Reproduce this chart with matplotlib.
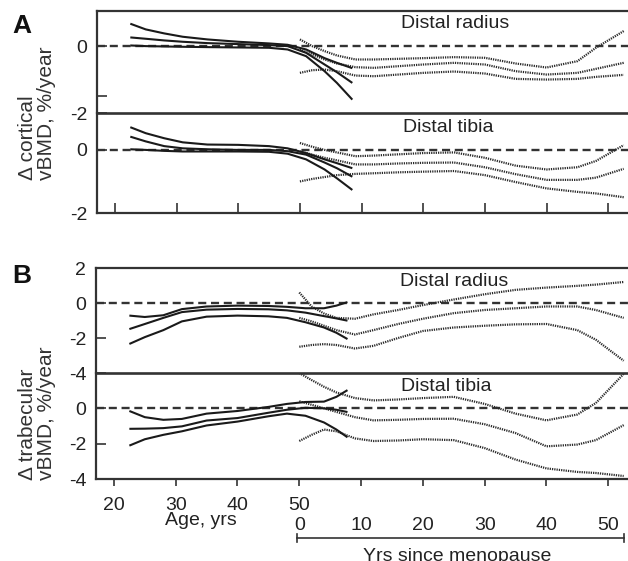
import matplotlib
matplotlib.use("Agg")
import matplotlib.pyplot as plt

plt.rcParams['font.family'] = ['Liberation Sans', 'DejaVu Sans']
plt.rcParams['lines.scale_dashes'] = False

W, H = 628, 561
MENOPAUSE_AGE = 50

# ---- data ----
# solid curves: change vs age (upper CI, mean, lower CI)
AGE_A = [22.5, 25, 28, 31, 35, 40, 45, 48, 51, 54, 56, 58.5]
AGE_B = [22.5, 25, 28, 31, 35, 40, 45, 48, 51, 54, 56, 57.8]

cort_radius_hi = [0.67, 0.50, 0.38, 0.28, 0.20, 0.13, 0.08, 0.04, -0.10, -0.36, -0.50, -0.66]
cort_radius_mid = [0.26, 0.22, 0.17, 0.13, 0.09, 0.06, 0.03, 0.00, -0.20, -0.55, -0.78, -1.10]
cort_radius_lo = [0.02, 0.00, -0.01, -0.02, -0.03, -0.04, -0.05, -0.10, -0.30, -0.75, -1.10, -1.60]

cort_tibia_hi = [0.72, 0.53, 0.37, 0.24, 0.17, 0.16, 0.12, 0.05, -0.10, -0.30, -0.42, -0.58]
cort_tibia_mid = [0.42, 0.27, 0.12, 0.05, 0.02, 0.00, 0.00, -0.04, -0.15, -0.40, -0.58, -0.85]
cort_tibia_lo = [0.02, 0.00, -0.03, -0.05, -0.05, -0.05, -0.06, -0.12, -0.30, -0.62, -0.90, -1.27]

trab_radius_hi = [-0.72, -0.80, -0.70, -0.35, -0.20, -0.15, -0.17, -0.22, -0.30, -0.30, -0.15, 0.05]
trab_radius_mid = [-1.49, -1.20, -0.85, -0.52, -0.38, -0.34, -0.36, -0.42, -0.55, -0.75, -0.88, -1.01]
trab_radius_lo = [-2.34, -1.95, -1.55, -1.05, -0.78, -0.72, -0.76, -0.85, -1.10, -1.40, -1.70, -2.06]

trab_tibia_hi = [-0.15, -0.50, -0.65, -0.60, -0.30, -0.15, 0.08, 0.25, 0.36, 0.38, 0.65, 1.03]
trab_tibia_mid = [-1.16, -1.15, -1.12, -1.02, -0.69, -0.55, -0.25, -0.08, 0.03, 0.00, -0.08, -0.21]
trab_tibia_lo = [-2.11, -1.75, -1.50, -1.30, -0.97, -0.75, -0.45, -0.30, -0.42, -0.80, -1.20, -1.64]

# dotted curves: change vs years since menopause
YRS = [0, 2, 4, 6, 9, 12, 16, 20, 25, 30, 35, 40, 45, 48, 52.5]

cort_radius_yhi = [0.20, 0.00, -0.15, -0.28, -0.40, -0.40, -0.38, -0.36, -0.33, -0.35, -0.52, -0.64, -0.45, -0.05, 0.45]
cort_radius_ymid = [-0.10, -0.25, -0.40, -0.52, -0.63, -0.65, -0.60, -0.55, -0.50, -0.55, -0.75, -0.85, -0.80, -0.68, -0.50]
cort_radius_ylo = [-0.80, -0.72, -0.70, -0.75, -0.88, -0.90, -0.85, -0.80, -0.76, -0.82, -0.98, -1.00, -0.98, -0.92, -0.86]

cort_tibia_yhi = [0.22, 0.10, 0.00, -0.08, -0.20, -0.18, -0.14, -0.10, -0.08, -0.25, -0.50, -0.62, -0.55, -0.35, 0.15]
cort_tibia_ymid = [-0.05, -0.15, -0.25, -0.33, -0.46, -0.46, -0.43, -0.41, -0.40, -0.55, -0.77, -0.95, -0.95, -0.88, -0.60]
cort_tibia_ylo = [-1.00, -0.92, -0.86, -0.80, -0.76, -0.74, -0.71, -0.69, -0.67, -0.80, -1.02, -1.22, -1.33, -1.38, -1.50]

trab_radius_yhi = [0.60, -0.20, -0.60, -0.85, -0.90, -0.65, -0.40, -0.12, 0.20, 0.50, 0.75, 0.88, 0.98, 1.05, 1.20]
trab_radius_ymid = [-0.85, -1.05, -1.30, -1.55, -1.80, -1.55, -1.20, -0.90, -0.58, -0.40, -0.30, -0.20, -0.20, -0.40, -0.85]
trab_radius_ylo = [-2.50, -2.40, -2.35, -2.40, -2.60, -2.45, -2.00, -1.60, -1.40, -1.30, -1.22, -1.20, -1.55, -2.10, -3.30]

trab_tibia_yhi = [2.00, 1.60, 1.22, 0.90, 0.58, 0.45, 0.50, 0.58, 0.65, 0.25, -0.30, -0.68, -0.35, 0.30, 1.95]
trab_tibia_ymid = [0.40, 0.20, 0.00, -0.20, -0.50, -0.68, -0.65, -0.60, -0.59, -0.90, -1.40, -2.15, -2.05, -1.80, -0.95]
trab_tibia_ylo = [-1.85, -1.50, -1.20, -1.30, -1.70, -1.85, -1.82, -1.75, -1.80, -2.25, -2.90, -3.40, -3.60, -3.66, -3.83]

AGE_TICKS = [20, 30, 40, 50, 60, 70, 80, 90, 100]
AGE_LABELS = ['20', '30', '40', '50']
YRS_LABELS = [0, 10, 20, 30, 40, 50]

INK = '#1a1a1a'
TXT = '#222222'
XLIM = (17.1, 103.2)


def add_ax(fig, l, t, r, b):
    # axes placed in pixel units of the 628x561 canvas
    return fig.add_axes([l / W, 1 - b / H, (r - l) / W, (b - t) / H])


def draw_panel(ax, age, solid, dotted, title, title_xy, ylim, yticks, ylabels):
    ax.set_xlim(*XLIM)
    ax.set_ylim(*ylim)
    ax.axhline(0, color='#333333', lw=1.7, dashes=(5.8, 3.4), zorder=1)
    for ys in solid:
        ax.plot(age, ys, color=INK, lw=1.5, solid_capstyle='butt',
                solid_joinstyle='round', zorder=3)
    xs = [MENOPAUSE_AGE + t for t in YRS]
    for ys in dotted:
        ax.plot(xs, ys, color='#2a2a2a', lw=1.6, dashes=(0.9, 0.75),
                dash_capstyle='butt', zorder=2)
    ax.text(title_xy[0], title_xy[1], title, transform=ax.transAxes,
            ha='center', va='center', fontsize=14, color=TXT)
    ax.set_yticks(yticks)
    ax.set_yticklabels(ylabels)
    ax.tick_params(axis='y', direction='in', length=7, width=1.2, pad=7,
                   labelsize=14, labelcolor=TXT, color='#333333')
    ax.spines['right'].set_visible(False)
    for s in ('top', 'bottom', 'left'):
        ax.spines[s].set_color('#333333')
        ax.spines[s].set_linewidth(1.6)


fig = plt.figure(figsize=(W / 100, H / 100), dpi=100)

a_top = add_ax(fig, 97, 11, 628, 113)
a_bot = add_ax(fig, 97, 113, 628, 213)
b_top = add_ax(fig, 96, 268, 628, 373)
b_bot = add_ax(fig, 96, 373, 628, 479)

draw_panel(a_top, AGE_A, [cort_radius_hi, cort_radius_mid, cort_radius_lo],
           [cort_radius_yhi, cort_radius_ymid, cort_radius_ylo],
           'Distal radius', (0.674, 0.88), (-2, 1.05), [-2, -1.5, 0], ['-2', '', '0'])
draw_panel(a_bot, AGE_A, [cort_tibia_hi, cort_tibia_mid, cort_tibia_lo],
           [cort_tibia_yhi, cort_tibia_ymid, cort_tibia_ylo],
           'Distal tibia', (0.661, 0.86), (-2, 1.17), [-2, 0], ['-2', '0'])
draw_panel(b_top, AGE_B, [trab_radius_hi, trab_radius_mid, trab_radius_lo],
           [trab_radius_yhi, trab_radius_ymid, trab_radius_ylo],
           'Distal radius', (0.674, 0.867), (-4, 2), [-4, -2, 0, 2], ['-4', '-2', '0', '2'])
draw_panel(b_bot, AGE_B, [trab_tibia_hi, trab_tibia_mid, trab_tibia_lo],
           [trab_tibia_yhi, trab_tibia_ymid, trab_tibia_ylo],
           'Distal tibia', (0.659, 0.868), (-4, 2), [-4, -2, 0], ['-4', '-2', '0'])

# upper sub-panels: no x axis, separator drawn by the lower one
for ax in (a_top, b_top):
    ax.spines['bottom'].set_visible(False)
    ax.tick_params(axis='x', bottom=False, labelbottom=False)
for ax in (a_bot, b_bot):
    ax.spines['top'].set_linewidth(1.9)

a_bot.set_xticks(AGE_TICKS)
a_bot.tick_params(axis='x', direction='in', length=7, width=1.2, labelbottom=False,
                  color='#333333')

b_bot.set_xticks(AGE_TICKS)
b_bot.set_xticklabels(AGE_LABELS + [''] * (len(AGE_TICKS) - len(AGE_LABELS)))
b_bot.tick_params(axis='x', direction='out', length=5, width=1.2, pad=8,
                  labelsize=14, labelcolor=TXT, color='#333333')

# second x scale: years since menopause
trans = b_bot.get_xaxis_transform()
for t in YRS_LABELS:
    b_bot.text(MENOPAUSE_AGE + t, -0.435, str(t), transform=trans,
               ha='center', va='center', fontsize=14, color=TXT)
b_bot.text(34.1, -0.39, 'Age, yrs', transform=trans, ha='center', va='center',
           fontsize=14, color=TXT)
x0, x1, yb = MENOPAUSE_AGE - 0.3, MENOPAUSE_AGE + 52.5, -0.557
b_bot.plot([x0, x1], [yb, yb], color='#333333', lw=1.2, transform=trans, clip_on=False)
for xe in (x0, x1):
    b_bot.plot([xe, xe], [yb - 0.035, yb + 0.035], color='#333333', lw=1.2,
               transform=trans, clip_on=False)
b_bot.text(75.6, -0.655, 'Yrs since menopause', transform=trans, ha='center',
           va='top', fontsize=14, color=TXT)

# panel letters and y labels
fig.text(22 / W, 1 - 26 / H, 'A', fontsize=19, fontweight='bold', ha='center',
         va='center', color='#111111')
fig.text(22 / W, 1 - 276 / H, 'B', fontsize=19, fontweight='bold', ha='center',
         va='center', color='#111111')
fig.text(37 / W, 1 - 180 / H, '\u0394 cortical\nvBMD, %/year', rotation=90,
         ha='center', va='bottom', multialignment='left', linespacing=1.0,
         fontsize=15, color='#333333')
fig.text(37 / W, 1 - 480 / H, '\u0394 trabecular\nvBMD, %/year', rotation=90,
         ha='center', va='bottom', multialignment='left', linespacing=1.0,
         fontsize=15, color='#333333')

fig.savefig('out.png', dpi=100)
